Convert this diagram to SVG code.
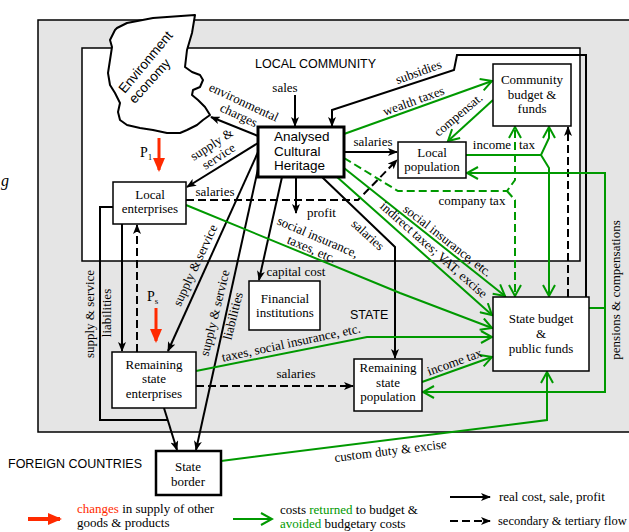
<svg xmlns="http://www.w3.org/2000/svg" width="629" height="532" viewBox="0 0 629 532">
<style>
.k{fill:none;stroke:#000;stroke-width:2}
.kd{fill:none;stroke:#000;stroke-width:2;stroke-dasharray:8 4}
.g{fill:none;stroke:#009900;stroke-width:2}
.gd{fill:none;stroke:#009900;stroke-width:2;stroke-dasharray:8 4}
.box{fill:#fff;stroke:#000;stroke-width:1.5}
.t{font-family:"Liberation Serif","Times New Roman",serif;font-size:13px;fill:#000}
.s{font-family:"Liberation Sans",Arial,sans-serif;font-size:12.5px;fill:#000}
.c{text-anchor:middle}
.gr{fill:#009900}
.rd{fill:#ff2a00}
</style>
<defs>
<marker id="ab" markerUnits="userSpaceOnUse" markerWidth="10" markerHeight="8" refX="9" refY="4" orient="auto" viewBox="0 0 10 8"><path d="M0,0 L10,4 L0,8 L2.5,4 z" fill="#000"/></marker>
<marker id="ag" markerUnits="userSpaceOnUse" markerWidth="14" markerHeight="14" refX="12" refY="7" orient="auto" viewBox="0 0 14 14"><path d="M1,1 L12,7 L1,13" fill="none" stroke="#009900" stroke-width="2"/></marker>
<marker id="ar" markerUnits="userSpaceOnUse" markerWidth="14" markerHeight="12" refX="12" refY="6" orient="auto" viewBox="0 0 14 12"><path d="M0,0 L14,6 L0,12 z" fill="#ff2a00"/></marker>
</defs>

<!-- regions -->
<g id="state-region">
<rect x="38" y="20" width="610" height="412" fill="#e5e5e5" stroke="#000" stroke-width="1.5"/>
<text class="s" x="350" y="319">STATE</text>
</g>
<g id="local-community-region">
<rect x="82" y="48" width="498" height="213" fill="#fff" stroke="#000" stroke-width="1.5"/>
<text class="s" x="255" y="68">LOCAL COMMUNITY</text>
</g>
<text class="s" x="8" y="468">FOREIGN COUNTRIES</text>
<text class="t" x="1" y="186" style="font-style:italic;font-size:16px">g</text>

<!-- connectors -->
<g id="connectors">
<path class="k" d="M295,95 L295,126" marker-end="url(#ab)"/>
<path class="k" d="M586,297 L586,55 L457,55 L454,70 L332,110 L332,126" marker-end="url(#ab)"/>
<path class="k" d="M258,136 L211,117" marker-end="url(#ab)"/>
<path class="k" d="M258,143 L187,187" marker-end="url(#ab)"/>
<path class="k" d="M259,150 L168,351" marker-end="url(#ab)"/>
<path class="k" d="M260,160 L196,450" marker-end="url(#ab)"/>
<path class="k" d="M282,177 L259,280" marker-end="url(#ab)"/>
<path class="k" d="M296,177 L296,213" marker-end="url(#ab)"/>
<path class="k" d="M322,177 L395,247 L395,358" marker-end="url(#ab)"/>
<path class="k" d="M344,152 L397,152" marker-end="url(#ab)"/>
<path class="k" d="M122,224 L122,351" marker-end="url(#ab)"/>
<path class="k" d="M113,207 L100,207 L100,420 L168,420"/>
<path class="k" d="M164,408 L177,450" marker-end="url(#ab)"/>

<path class="kd" d="M186,200 L358,200 L397,160" marker-end="url(#ab)"/>
<path class="kd" d="M137,352 L137,225" marker-end="url(#ab)"/>
<path class="kd" d="M196,386 L353,386" marker-end="url(#ab)"/>
<path class="kd" d="M568,297 L568,127" marker-end="url(#ab)"/>

<path class="g" d="M344,134 L492,81" marker-end="url(#ag)"/>
<path class="g" d="M493,100 L448,141" marker-end="url(#ag)"/>
<path class="g" d="M466,155 L541,155 L549,138 L549,127" marker-end="url(#ag)"/>
<path class="g" d="M541,155 L549,168 L549,296" marker-end="url(#ag)"/>
<path class="g" d="M589,308 L605,308 L605,173 L467,173" marker-end="url(#ag)"/>
<path class="g" d="M605,308 L605,392 L423,392" marker-end="url(#ag)"/>
<path class="g" d="M344,168 L505,296" marker-end="url(#ag)"/>
<path class="g" d="M337,177 L492,315" marker-end="url(#ag)"/>
<path class="g" d="M186,205 L400,293 L492,328" marker-end="url(#ag)"/>
<path class="g" d="M196,371 L367,337 L492,337" marker-end="url(#ag)"/>
<path class="g" d="M422,382 L492,357" marker-end="url(#ag)"/>
<path class="g" d="M221,461 L547,420 L547,372" marker-end="url(#ag)"/>
<path class="gd" d="M344,158 L398,191 L507,191 L515,180 L515,127" marker-end="url(#ag)"/>
<path class="gd" d="M507,191 L515,200 L515,296" marker-end="url(#ag)"/>

<!-- red change arrows -->
<path d="M159,138 L159,170" stroke="#ff2a00" stroke-width="3" fill="none" marker-end="url(#ar)"/>
<path d="M156,308 L156,341" stroke="#ff2a00" stroke-width="3" fill="none" marker-end="url(#ar)"/>
<text class="t" x="140" y="157" style="font-size:14px">P<tspan font-size="9" dy="3">1</tspan></text>
<text class="t" x="147" y="301" style="font-size:14px">P<tspan font-size="9" dy="3">s</tspan></text>

<!-- connector labels -->
<text class="t c" x="285" y="92">sales</text>
<text class="t c" transform="translate(242,106) rotate(25)">environmental</text>
<text class="t c" transform="translate(237,119) rotate(25)">charges</text>
<text class="t c" transform="translate(214,148) rotate(-33)">supply &amp;</text>
<text class="t c" transform="translate(221,160) rotate(-33)">service</text>
<text class="t c" transform="translate(420,76) rotate(-20)">subsidies</text>
<text class="t c" transform="translate(415,105) rotate(-20)">wealth taxes</text>
<text class="t c" transform="translate(461,118) rotate(-40)">compensat.</text>
<text class="t c" x="373" y="146">salaries</text>
<text class="t c" x="492" y="149">income</text>
<text class="t c" x="527" y="149">tax</text>
<text class="t c" x="472" y="205">company tax</text>
<text class="t c" transform="translate(445,244) rotate(38)">social insurance, etc.</text>
<text class="t c" transform="translate(431,253) rotate(41.5)">indirect taxes; VAT, excise</text>
<text class="t c" transform="translate(365,238) rotate(42)">salaries</text>
<text class="t" x="307" y="217">profit</text>
<text class="t c" transform="translate(316,241) rotate(23)">social insurance,</text>
<text class="t c" transform="translate(310,253) rotate(23)">taxes, etc.</text>
<text class="t c" x="296" y="276">capital cost</text>
<text class="t c" x="215" y="196">salaries</text>
<text class="t c" transform="translate(199,267) rotate(-65)">supply &amp; service</text>
<text class="t c" transform="translate(219,314) rotate(-76)">supply &amp; service</text>
<text class="t c" transform="translate(237,317) rotate(-76)">liabilities</text>
<text class="t c" transform="translate(94,314) rotate(-90)">supply &amp; service</text>
<text class="t c" transform="translate(111,313) rotate(-90)">liabilities</text>
<text class="t c" transform="translate(292,347) rotate(-12)">taxes, social insurance, etc.</text>
<text class="t c" x="296" y="378">salaries</text>
<text class="t c" transform="translate(456,366) rotate(-20)">income tax</text>
<text class="t c" transform="translate(391,455) rotate(-7)">custom duty &amp; excise</text>
<text class="t c" transform="translate(620,290) rotate(-90)">pensions &amp; compensations</text>
</g>

<!-- nodes -->
<g id="environment-economy">
<path d="M117,28 L127,23 L153,18 L195,15 L192,33 L187,50 L185,67 L192,72 L200,75 L203,80 L200,87 L193,90 L192,95 L198,100 L205,107 L210,115 L203,120 L197,125 L187,130 L180,133 L167,133 L153,130 L140,128 L127,125 L120,120 L118,112 L120,103 L115,93 L110,85 L108,73 L110,60 L112,47 L110,40 L115,30 Z" fill="#fff" stroke="#000" stroke-width="2" stroke-linejoin="round"/>
<text class="s c" style="font-size:13.5px" transform="translate(149,65) rotate(-50)">Environment</text>
<text class="s c" style="font-size:13.5px" transform="translate(153,84) rotate(-48)">economy</text>
</g>
<g id="analysed-cultural-heritage">
<rect x="258" y="127" width="86" height="50" fill="#fff" stroke="#000" stroke-width="3"/>
<text class="s" style="font-size:13.5px" x="274" y="141">Analysed</text>
<text class="s" style="font-size:13.5px" x="274" y="156">Cultural</text>
<text class="s" style="font-size:13.5px" x="274" y="170">Heritage</text>
</g>
<g id="community-budget">
<rect class="box" x="493" y="64" width="78" height="62"/>
<text class="t c" x="532" y="84">Community</text>
<text class="t c" x="532" y="99">budget &amp;</text>
<text class="t c" x="532" y="113">funds</text>
</g>
<g id="local-population">
<rect class="box" x="398" y="142" width="68" height="36"/>
<text class="t c" x="432" y="157">Local</text>
<text class="t c" x="432" y="171">population</text>
</g>
<g id="local-enterprises">
<rect class="box" x="113" y="182" width="73" height="42"/>
<text class="t c" x="150" y="199">Local</text>
<text class="t c" x="150" y="213">enterprises</text>
</g>
<g id="financial-institutions">
<rect class="box" x="249" y="281" width="71" height="49"/>
<text class="t c" x="285" y="303">Financial</text>
<text class="t c" x="285" y="317">institutions</text>
</g>
<g id="remaining-state-enterprises">
<rect class="box" x="112" y="352" width="84" height="56"/>
<text class="t c" x="154" y="369">Remaining</text>
<text class="t c" x="154" y="383">state</text>
<text class="t c" x="154" y="398">enterprises</text>
</g>
<g id="remaining-state-population">
<rect class="box" x="354" y="359" width="68" height="52"/>
<text class="t c" x="388" y="372">Remaining</text>
<text class="t c" x="388" y="387">state</text>
<text class="t c" x="388" y="401">population</text>
</g>
<g id="state-budget">
<rect class="box" x="493" y="297" width="96" height="74"/>
<text class="t c" x="541" y="323">State budget</text>
<text class="t c" x="541" y="338">&amp;</text>
<text class="t c" x="541" y="353">public funds</text>
</g>
<g id="state-border">
<rect x="156" y="451" width="65" height="44" fill="#fff" stroke="#000" stroke-width="2.5"/>
<text class="t c" x="188" y="471">State</text>
<text class="t c" x="188" y="486">border</text>
</g>

<!-- legend -->
<g id="legend">
<path d="M28,519 L60,519" stroke="#ff2a00" stroke-width="4" fill="none" marker-end="url(#ar)"/>
<text class="t" x="77" y="513"><tspan class="rd">changes</tspan> in supply of other</text>
<text class="t" x="77" y="527">goods &amp; products</text>
<path class="g" d="M233,519 L272,519" marker-end="url(#ag)"/>
<text class="t" x="280" y="514">costs <tspan class="gr">returned</tspan> to budget &amp;</text>
<text class="t" x="280" y="528"><tspan class="gr">avoided</tspan> budgetary costs</text>
<path class="k" d="M450,497 L490,497" marker-end="url(#ab)"/>
<text class="t" x="499" y="501">real cost, sale, profit</text>
<path class="kd" d="M450,521 L490,521" marker-end="url(#ab)"/>
<text class="t" x="498" y="525" style="font-size:12.5px">secondary &amp; tertiary flow</text>
</g>
</svg>
